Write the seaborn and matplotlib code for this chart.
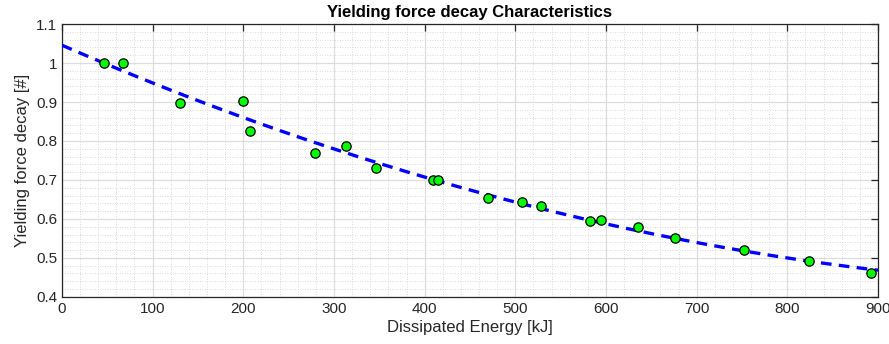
import numpy as np
import pandas as pd
import matplotlib
matplotlib.use("Agg")
import matplotlib.pyplot as plt
import seaborn as sns
from matplotlib.ticker import MultipleLocator

energy = [46, 67, 130, 200, 207, 279, 313, 346, 409, 415, 470, 507, 528,
          582, 594, 635, 676, 752, 824, 892]
decay = [1.0, 1.0, 0.898, 0.903, 0.826, 0.769, 0.787, 0.731, 0.70, 0.70,
         0.654, 0.644, 0.632, 0.594, 0.597, 0.58, 0.551, 0.52, 0.492, 0.462]

df = pd.DataFrame({"Energy": energy, "Decay": decay})

# quadratic least-squares fit of the data
coef = np.polyfit(df["Energy"], df["Decay"], 2)
xf = np.linspace(0, 900, 200)
fit = pd.DataFrame({"Energy": xf, "Decay": np.polyval(coef, xf)})

sns.set_style("white")
plt.rcParams['font.family'] = ['Liberation Sans', 'DejaVu Sans']

fig = plt.figure(figsize=(8.89, 3.44), dpi=100)
ax = fig.add_axes([0.0697, 0.137, 0.9179, 0.793])

sns.lineplot(data=fit, x="Energy", y="Decay", ax=ax, color="#0000ff",
             linestyle=(0, (3.2, 2.2)), linewidth=2.4, zorder=3)
sns.scatterplot(data=df, x="Energy", y="Decay", ax=ax, color="#00ff00",
                edgecolor="black", linewidth=0.9, s=45, zorder=4)

ax.set_xlim(0, 900)
ax.set_ylim(0.4, 1.1)
ax.xaxis.set_major_locator(MultipleLocator(100))
ax.xaxis.set_minor_locator(MultipleLocator(20))
ax.yaxis.set_minor_locator(MultipleLocator(0.02))
ax.set_yticks(np.arange(0.4, 1.101, 0.1))
ax.set_yticklabels(["0.4", "0.5", "0.6", "0.7", "0.8", "0.9", "1", "1.1"])

ax.grid(which="major", color="#dcdcdc", linewidth=0.9, linestyle="-")
ax.grid(which="minor", color="#cfcfcf", linewidth=0.6, linestyle=(0, (1, 2)))
ax.set_axisbelow(True)

ax.tick_params(which="major", direction="in", length=5, top=True, right=True,
               labelsize=11, colors="#262626", width=0.9)
ax.tick_params(which="minor", length=0, top=False, right=False)
for s in ax.spines.values():
    s.set_color("#262626")
    s.set_linewidth(0.9)

ax.set_xlabel("Dissipated Energy [kJ]", fontsize=12, color="#262626", labelpad=3)
ax.set_ylabel("Yielding force decay [#]", fontsize=12, color="#262626")
ax.set_title("Yielding force decay Characteristics", fontsize=12,
             fontweight="bold", color="black", pad=5)

fig.savefig("out.png", dpi=100)
